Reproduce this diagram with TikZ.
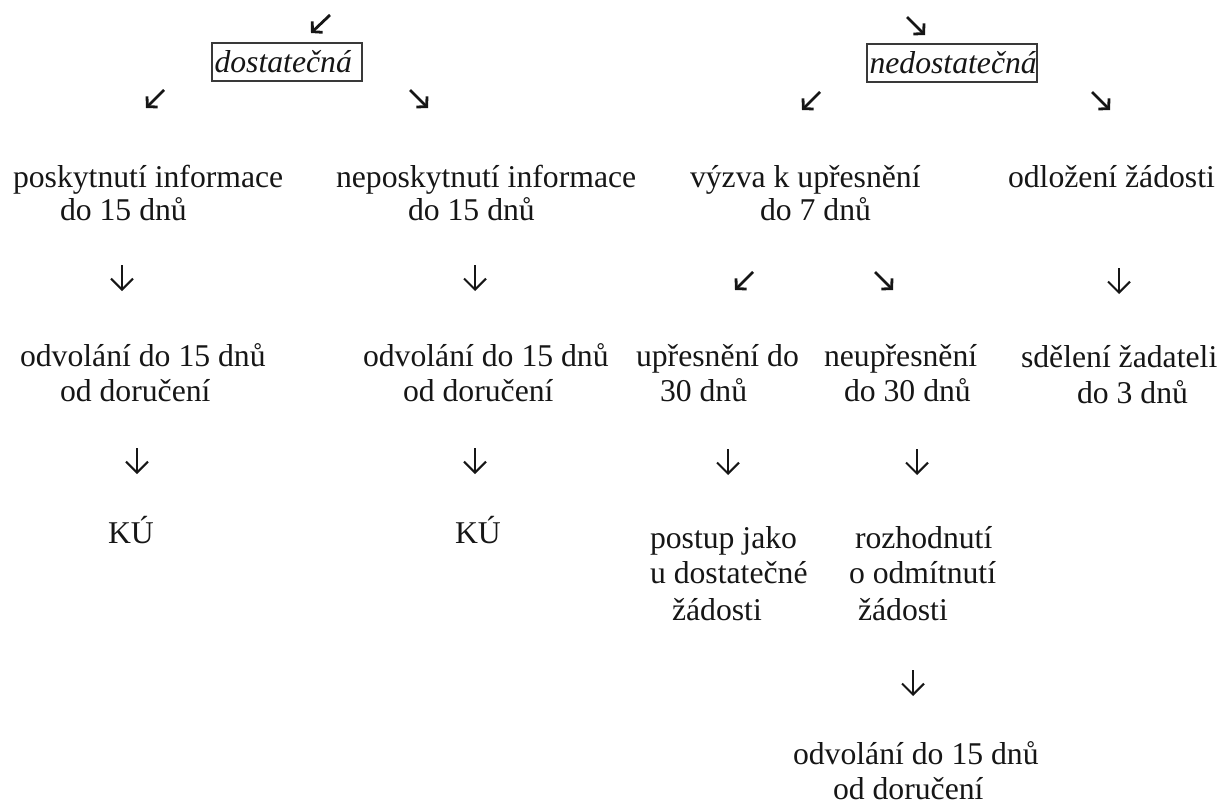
\documentclass[tikz,border=0pt]{standalone}
\usepackage{fontspec}
\setmainfont{Liberation Serif}
\usetikzlibrary{arrows.meta}
\definecolor{ink}{HTML}{161616}
\begin{document}
\begin{tikzpicture}[x=1pt,y=-1pt,
  txt/.style={anchor=base west, inner sep=0pt, outer sep=0pt, font=\fontsize{31.7}{35}\selectfont, text=ink},
  boxnode/.style={draw=ink!85, line width=1.1pt, inner xsep=2.5pt, inner ysep=0pt, align=left, font=\fontsize{31.7}{35}\selectfont\itshape, text=ink, minimum height=38pt},
  diag/.style={draw=ink, line width=2.8pt, line join=miter, -{Straight Barb[length=7pt,width=15pt,line join=miter]}},
  down/.style={draw=ink, line width=2.1pt, -{Straight Barb[length=11pt,width=22pt]}}]
\useasboundingbox (0,0) rectangle (1222,806);

% boxes
\node[boxnode, text width=145pt] (dost) at (287,62) {dostatečná};
\node[boxnode, text width=165pt] (nedost) at (952,63) {nedostatečná};

% row 1 texts
\node[txt] (p1a) at (13,187) {poskytnutí informace};
\node[txt] (p1b) at (60,220) {do 15 dnů};
\node[txt] (n1a) at (336,187) {neposkytnutí informace};
\node[txt] (n1b) at (408,220) {do 15 dnů};
\node[txt] (v1a) at (690,187) {výzva k upřesnění};
\node[txt] (v1b) at (760,220) {do 7 dnů};
\node[txt] (o1a) at (1008,187) {odložení žádosti};

% row 2 texts
\node[txt] (p2a) at (20,366) {odvolání do 15 dnů};
\node[txt] (p2b) at (60,401) {od doručení};
\node[txt] (n2a) at (363,366) {odvolání do 15 dnů};
\node[txt] (n2b) at (403,401) {od doručení};
\node[txt] (u2a) at (636,366) {upřesnění do};
\node[txt] (u2b) at (660,401) {30 dnů};
\node[txt] (e2a) at (824,366) {neupřesnění};
\node[txt] (e2b) at (844,401) {do 30 dnů};
\node[txt] (s2a) at (1021,367) {sdělení žadateli};
\node[txt] (s2b) at (1077,403) {do 3 dnů};

% row 3 texts
\node[txt] (k3a) at (108,543) {KÚ};
\node[txt] (k3b) at (455,543) {KÚ};
\node[txt] (pj1) at (650,548) {postup jako};
\node[txt] (pj2) at (650,583) {u dostatečné};
\node[txt] (pj3) at (672,620) {žádosti};
\node[txt] (ro1) at (855,548) {rozhodnutí};
\node[txt] (ro2) at (849,583) {o odmítnutí};
\node[txt] (ro3) at (858,620) {žádosti};

% row 4 texts
\node[txt] (b4a) at (793,764) {odvolání do 15 dnů};
\node[txt] (b4b) at (833,799) {od doručení};

% arrow coordinates
\coordinate (t1s) at (330,15);  \coordinate (t1e) at (311,33);
\coordinate (t2s) at (907,17);  \coordinate (t2e) at (925,35);
\coordinate (d1s) at (164,90);  \coordinate (d1e) at (146,108);
\coordinate (d2s) at (410,90);  \coordinate (d2e) at (428,108);
\coordinate (d3s) at (820,92);  \coordinate (d3e) at (802,110);
\coordinate (d4s) at (1092,92); \coordinate (d4e) at (1110,110);
\coordinate (r2as) at (753,272); \coordinate (r2ae) at (735,290);
\coordinate (r2bs) at (875,272); \coordinate (r2be) at (893,290);
\coordinate (v1s) at (122,265); \coordinate (v1e) at (122,291);
\coordinate (v2s) at (475,265); \coordinate (v2e) at (475,291);
\coordinate (v3s) at (1119,268); \coordinate (v3e) at (1119,294);
\coordinate (w1s) at (137,448); \coordinate (w1e) at (137,474);
\coordinate (w2s) at (475,448); \coordinate (w2e) at (475,474);
\coordinate (w3s) at (728,449); \coordinate (w3e) at (728,475);
\coordinate (w4s) at (917,449); \coordinate (w4e) at (917,475);
\coordinate (x1s) at (913,670); \coordinate (x1e) at (913,696);

\foreach \a in {t1,t2,d1,d2,d3,d4,r2a,r2b} \draw[diag] (\a s) -- (\a e);
\foreach \a in {v1,v2,v3,w1,w2,w3,w4,x1} \draw[down] (\a s) -- (\a e);
\end{tikzpicture}
\end{document}
